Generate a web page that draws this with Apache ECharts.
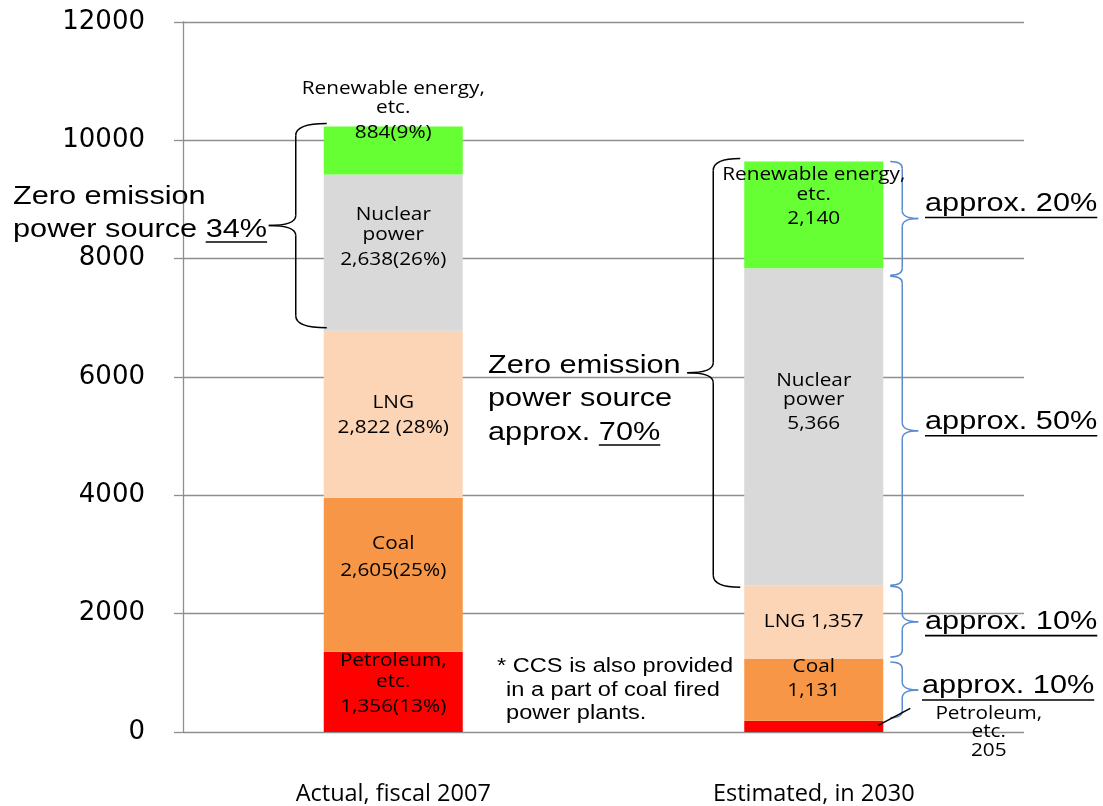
<!DOCTYPE html>
<html><head><meta charset="utf-8">
<script src="https://cdn.jsdelivr.net/npm/echarts@6/dist/echarts.min.js"></script>
<style>html,body{margin:0;padding:0;background:#fff}#c{width:1103px;height:806px}</style>
</head><body><div id="c"></div>
<script>
// ---- data ----
const categories = ['Actual, fiscal 2007', 'Estimated, in 2030'];
const sourceNames = ['Petroleum, etc.', 'Coal', 'LNG', 'Nuclear power', 'Renewable energy, etc.'];
const petroleum = [1356, 190];
const coal = [2605, 1042];
const lng = [2822, 1249];
const nuclear = [2638, 5355];
const renewable = [812, 1806];
const yTicks = [0, 2000, 4000, 6000, 8000, 10000, 12000];
const labels2007 = [['Petroleum,', 'etc.', '1,356(13%)'], ['Coal', '2,605(25%)'], ['LNG', '2,822 (28%)'], ['Nuclear', 'power', '2,638(26%)'], ['Renewable energy,', 'etc.', '884(9%)']];
const labels2030 = [['Petroleum,', 'etc.', '205'], ['Coal', '1,131'], ['LNG 1,357'], ['Nuclear', 'power', '5,366'], ['Renewable energy,', 'etc.', '2,140']];
const shareLeftText = ['Zero emission', 'power source ', '34%'];
const shareMidText = ['Zero emission', 'power source', 'approx. ', '70%'];
const shareRightText = ['approx. 20%', 'approx. 50%', 'approx. 10%', 'approx. 10%'];
const noteText = ['* CCS is also provided', 'in a part of coal fired', 'power plants.'];

// ---- styles / layout ----
const colors = ['#FF0000', '#F79646', '#FBD5B5', '#D9D9D9', '#66FF33'];
const seriesData = [petroleum, coal, lng, nuclear, renewable];
const labelLayout = [
  [[-31, -10, 15], [-30.5, -3.5], [-11.5, 13.5], [-38, -18, 7], [-62, -43, -18]],
  [[-12.5, 5.5, 24.5], [-23, 1], [0], [-45.5, -26.5, -2.5], [-39.5, -19.5, 4.5]]
];
const SX = 1.18;
const ANN = 'Liberation Sans';
const LBL = 'Open Sans';

const chart = echarts.init(document.getElementById('c'));
chart.setOption({
  animation: false,
  grid: {left: 183, right: 79, top: 22, bottom: 73},
  xAxis: {
    type: 'category', data: categories,
    axisLine: {show: false}, axisTick: {show: false},
    axisLabel: {color: '#000', fontFamily: LBL, fontSize: 23.5, margin: 50}
  },
  yAxis: {
    type: 'value', min: yTicks[0], max: yTicks[yTicks.length - 1], interval: yTicks[1] - yTicks[0],
    axisLine: {show: true, lineStyle: {color: '#8e8e8e', width: 1.3}},
    axisTick: {show: true, length: 9, lineStyle: {color: '#8e8e8e', width: 1.3}},
    splitLine: {lineStyle: {color: '#8e8e8e', width: 1.3}},
    axisLabel: {color: '#000', fontFamily: 'DejaVu Sans', fontSize: 26, margin: 38, formatter: v => String(v)}
  },
  series: sourceNames.map((n, i) => ({
    name: n, type: 'bar', stack: 'total', data: seriesData[i], barWidth: 139,
    itemStyle: {color: colors[i]}, emphasis: {disabled: true}
  }))
});

// ---- annotations ----
const P = (ci, v) => chart.convertToPixel({xAxisIndex: 0, yAxisIndex: 0}, [ci, v]);
function seg(ci, si) {
  let lo = 0;
  for (let k = 0; k < si; k++) lo += seriesData[k][ci];
  const hi = lo + seriesData[si][ci];
  const t = P(ci, hi)[1], b = P(ci, lo)[1];
  return {top: t, bottom: b, mid: (t + b) / 2, cx: P(ci, lo)[0]};
}
const ctx = document.createElement('canvas').getContext('2d');
function tw(text, size, fam) { ctx.font = size + 'px "' + fam + '"'; return ctx.measureText(text).width; }
function txt(x, y, text, size, fam, align, sx) {
  return {type: 'text', x: x, y: y, scaleX: sx, z: 100,
    style: {text: text, fill: '#000', font: size + 'px "' + fam + '"', textAlign: align, textVerticalAlign: 'middle'}};
}
function uline(x1, x2, y) {
  return {type: 'line', z: 100, shape: {x1: x1, y1: y, x2: x2, y2: y}, style: {stroke: '#000', lineWidth: 1.6}};
}
function brace(xTip, xV, xEnd, y1, y2, ym, r, r2, color, lw) {
  const st = {stroke: color, lineWidth: lw, fill: null};
  const bz = (x1, y1_, cx, cy, x2, y2_) => ({type: 'bezierCurve', z: 90, shape: {x1: x1, y1: y1_, cpx1: cx, cpy1: cy, x2: x2, y2: y2_}, style: st});
  const ln = (x1, y1_, x2, y2_) => ({type: 'line', z: 90, shape: {x1: x1, y1: y1_, x2: x2, y2: y2_}, style: st});
  return [
    bz(xEnd, y1, xV, y1, xV, y1 + r),
    ln(xV, y1 + r, xV, ym - r2),
    bz(xV, ym - r2, xV, ym, xTip, ym),
    bz(xTip, ym, xV, ym, xV, ym + r2),
    ln(xV, ym + r2, xV, y2 - r),
    bz(xV, y2 - r, xV, y2, xEnd, y2)
  ];
}

const els = [];
const half = 139 / 2;
const LS = 17.6;
// bar labels
[labels2007, labels2030].forEach((labs, ci) => {
  labs.forEach((lines, si) => {
    const s = seg(ci, si);
    const dx = (ci === 1 && si === 0) ? 175 : 0;
    lines.forEach((line, li) => {
      els.push(txt(s.cx + dx, s.mid + labelLayout[ci][si][li], line, LS, LBL, 'center', SX));
    });
  });
});
// petroleum 2030 leader line
{
  const s = seg(1, 0);
  els.push({type: 'line', z: 95, shape: {x1: s.cx + half - 5, y1: s.mid - 1, x2: s.cx + half + 27, y2: s.mid - 18}, style: {stroke: '#000', lineWidth: 1.5}});
}
// left black brace (2007)
{
  const a = seg(0, 4), b = seg(0, 3);
  const left = a.cx - half;
  const y1 = a.top - 3, y2 = b.bottom - 3;
  brace(left - 55, left - 28, left + 3, y1, y2, (y1 + y2) / 2, 12, 10, '#000', 1.5).forEach(e => els.push(e));
  const x0 = 13, fs = 26;
  els.push(txt(x0, 197, shareLeftText[0], fs, ANN, 'left', SX));
  els.push(txt(x0, 230, shareLeftText[1] + shareLeftText[2], fs, ANN, 'left', SX));
  const ux1 = x0 + tw(shareLeftText[1], fs, ANN) * SX;
  const ux2 = x0 + tw(shareLeftText[1] + shareLeftText[2], fs, ANN) * SX;
  els.push(uline(ux1, ux2, 242));
}
// 2030 black brace
{
  const a = seg(1, 4), b = seg(1, 3);
  const left = a.cx - half;
  const y1 = a.top - 3, y2 = b.bottom + 2;
  brace(left - 57, left - 31, left - 4, y1, y2, (y1 + y2) / 2, 12, 10, '#000', 1.5).forEach(e => els.push(e));
  const x0 = 488, fs = 26;
  els.push(txt(x0, 366, shareMidText[0], fs, ANN, 'left', SX));
  els.push(txt(x0, 399, shareMidText[1], fs, ANN, 'left', SX));
  els.push(txt(x0, 433, shareMidText[2] + shareMidText[3], fs, ANN, 'left', SX));
  const ux1 = x0 + tw(shareMidText[2], fs, ANN) * SX;
  const ux2 = x0 + tw(shareMidText[2] + shareMidText[3], fs, ANN) * SX;
  els.push(uline(ux1, ux2, 445));
}
// blue braces (2030)
{
  const right = seg(1, 0).cx + half;
  const spans = [
    [seg(1, 4).top, seg(1, 4).bottom + 7],
    [seg(1, 3).top + 8, seg(1, 3).bottom],
    [seg(1, 2).top + 1, seg(1, 2).bottom - 2],
    [seg(1, 1).top + 3, seg(1, 1).bottom - 3]
  ];
  const textX = [925, 925, 925, 922];
  const textDy = [-15, -9, 0, -4];
  spans.forEach((sp, i) => {
    const ym = (sp[0] + sp[1]) / 2;
    brace(right + 35, right + 19, right + 7, sp[0], sp[1], ym, 7, 8, '#5b8bd0', 1.5).forEach(e => els.push(e));
    const ty = ym + textDy[i];
    els.push(txt(textX[i], ty, shareRightText[i], 26, ANN, 'left', SX));
    els.push(uline(textX[i], textX[i] + tw(shareRightText[i], 26, ANN) * SX, ty + 14));
  });
}
// note
els.push(txt(497, 666, noteText[0], 20, ANN, 'left', SX));
els.push(txt(506, 690, noteText[1], 20, ANN, 'left', SX));
els.push(txt(506, 713, noteText[2], 20, ANN, 'left', SX));

chart.setOption({graphic: {elements: els}});
</script>
</body></html>
